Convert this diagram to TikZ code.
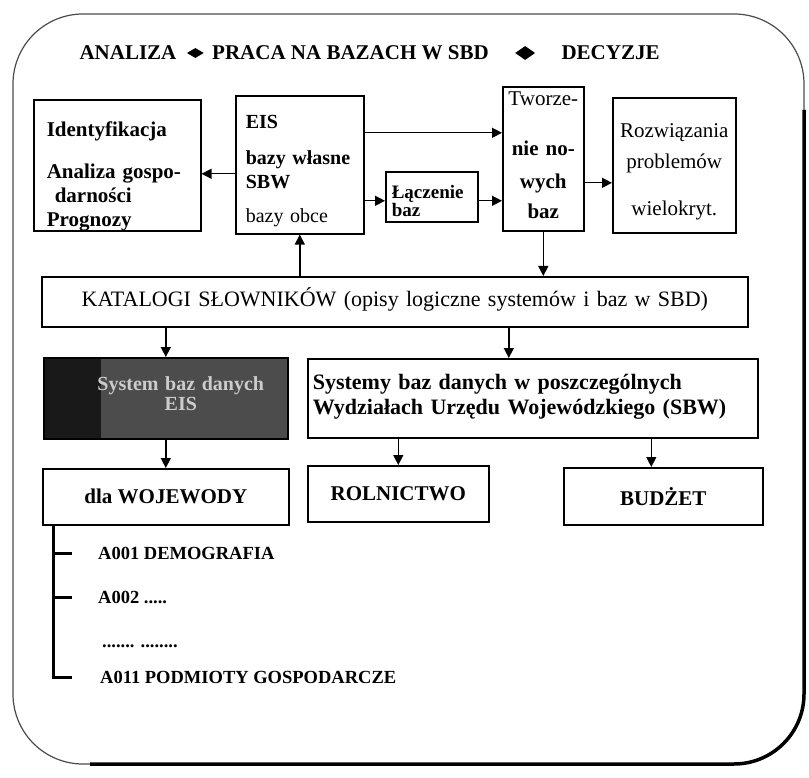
\documentclass[tikz,border=0pt]{standalone}
\usepackage{fontspec}
\setmainfont{Liberation Serif}
\usetikzlibrary{arrows.meta,positioning,shapes.geometric}

\newcommand{\boxfont}{\fontsize{21}{22}\selectfont}
\newcommand{\listfont}{\fontsize{18.5}{20}\selectfont\bfseries}

\begin{document}
\begin{tikzpicture}[x=1pt, y=-1pt,
  box/.style={draw, line width=1.6pt, anchor=north west, inner xsep=8pt, inner ysep=0pt, align=left, font=\boxfont},
  flat/.style={draw, line width=1.6pt, anchor=north west, inner sep=0pt, font=\boxfont\bfseries},
  title/.style={font=\fontsize{21}{22}\selectfont\bfseries, inner sep=0pt},
  dia/.style={diamond, fill=black, inner sep=0pt, minimum width=17pt, minimum height=10pt},
  item/.style={anchor=west, inner sep=0pt, font=\listfont},
  arr/.style={-{Triangle[length=10pt,width=10pt]}, line width=1.4pt},
  tree/.style={line width=3pt},
  frame/.style={line width=1.2pt, rounded corners=70pt}
]
\useasboundingbox (0,0) rectangle (809,778);

% frame
\draw[frame, black!70] (13,14) rectangle (804,764);
\draw[frame, line width=3.5pt] (804,110) -- (804,764) -- (90,764);

% title line
\node[title] (analiza) at (128,53) {ANALIZA};
\node[dia, right=10pt of analiza] (d1) {};
\node[title, right=8pt of d1] (praca) {PRACA NA BAZACH W SBD};
\node[dia, right=26pt of praca, minimum width=20pt, minimum height=14pt] (d2) {};
\node[title, right=26pt of d2] (decyzje) {DECYZJE};

% upper row
\node[box, font=\fontsize{21}{22}\selectfont\bfseries, inner xsep=13pt, text width=141pt, text height=37pt, text depth=94pt] (ident) at (33,99)
  {Identyfikacja\\[20pt]Analiza gospo-\\[2pt]\hspace*{8pt}darności\\[2pt]Prognozy};
\node[box, font=\fontsize{20}{22}\selectfont, inner xsep=10pt, text width=108pt, text height=33pt, text depth=105pt] (eis) at (235,95)
  {\bfseries EIS\\[14pt]bazy własne\\[2pt]SBW\\[12pt]\mdseries bazy obce};
\node[box, font=\fontsize{19}{17}\selectfont\bfseries, inner xsep=6pt, text width=80pt, text height=27pt, text depth=23pt] (laczenie) at (385,171)
  {Łączenie\\baz};
\node[box, align=center, inner xsep=4pt, text width=73pt, text height=19pt, text depth=125pt] (tworz) at (502,86)
  {Tworze-\\[28pt]\bfseries nie no-\\[11pt]wych\\[8pt]baz};
\node[box, align=center, inner xsep=5pt, text width=113pt, text height=40pt, text depth=95pt] (rozw) at (612,97)
  {Rozwiązania\\[9pt]problemów\\[25pt]wielokryt.};

% catalogue
\node[box, align=center, font=\fontsize{22}{24}\selectfont, inner xsep=0pt, text width=706pt, text height=30pt, text depth=20pt] (katalogi) at (41,276)
  {KATALOGI SŁOWNIKÓW (opisy logiczne systemów i baz w SBD)};

% database systems
\node[box, align=center, fill=black!70, text=white!80!black, font=\fontsize{20}{20}\selectfont\bfseries, inner xsep=0pt, text width=244pt, text height=33pt, text depth=48pt,
  path picture={\fill[black!90] (path picture bounding box.south west) rectangle ([xshift=57pt]path picture bounding box.north west);}] (eisdb) at (43,357)
  {\hspace*{30pt}System baz danych\\\hspace*{30pt}EIS};
\node[box, font=\fontsize{22}{25}\selectfont\bfseries, inner xsep=5pt, text width=440pt, text height=31pt, text depth=48pt] (sbw) at (307,358)
  {Systemy baz danych w poszczególnych\\Wydziałach Urzędu Wojewódzkiego (SBW)};

% lower row
\node[flat, minimum width=246pt, minimum height=56pt] (woj) at (42,468) {dla WOJEWODY};
\node[flat, minimum width=181pt, minimum height=56pt] (roln) at (307,465) {ROLNICTWO};
\node[flat, minimum width=199pt, minimum height=57pt] (budzet) at (563,467) {BUDŻET};

% list for the voivode
\coordinate (trunk) at ([xshift=11pt]woj.south west);
\node[item] (a001) at (98,553) {A001 DEMOGRAFIA};
\node[item] (a002) at (98,597) {A002 .....};
\node[item] (adots) at (102,646) {....... ........};
\node[item] (a011) at (100,677) {A011 PODMIOTY GOSPODARCZE};

\draw[tree] (trunk) -- (trunk |- a011.west) -- ++(19,0);
\draw[tree] (trunk |- a001.west) -- ++(19,0);
\draw[tree] (trunk |- a002.west) -- ++(19,0);

% connectors
\draw[arr] ([yshift=-9pt]eis.west) -- ([yshift=-9pt]eis.west -| ident.east);
\draw[arr] ([yshift=32pt]eis.east) -- ([yshift=32pt]eis.east -| tworz.west);
\draw[arr] ([yshift=-36pt]eis.east) -- ([yshift=-36pt]eis.east -| laczenie.west);
\draw[arr] ([yshift=-4pt]laczenie.east) -- ([yshift=-4pt]laczenie.east -| tworz.west);
\draw[arr] ([yshift=-24pt]tworz.east) -- ([yshift=-24pt]tworz.east -| rozw.west);
\draw[arr] (tworz.south) -- (tworz.south |- katalogi.north);
\draw[arr] (eis.south |- katalogi.north) -- (eis.south);
\draw[arr] (katalogi.south -| eisdb.north) -- (eisdb.north);
\draw[arr] ([xshift=-24pt]sbw.north |- katalogi.south) -- ([xshift=-24pt]sbw.north);
\draw[arr] (eisdb) -- (woj);
\draw[arr] (sbw.south -| roln.north) -- (roln.north);
\draw[arr] ([xshift=-12pt]budzet.north |- sbw.south) -- ([xshift=-12pt]budzet.north);

\end{tikzpicture}
\end{document}
